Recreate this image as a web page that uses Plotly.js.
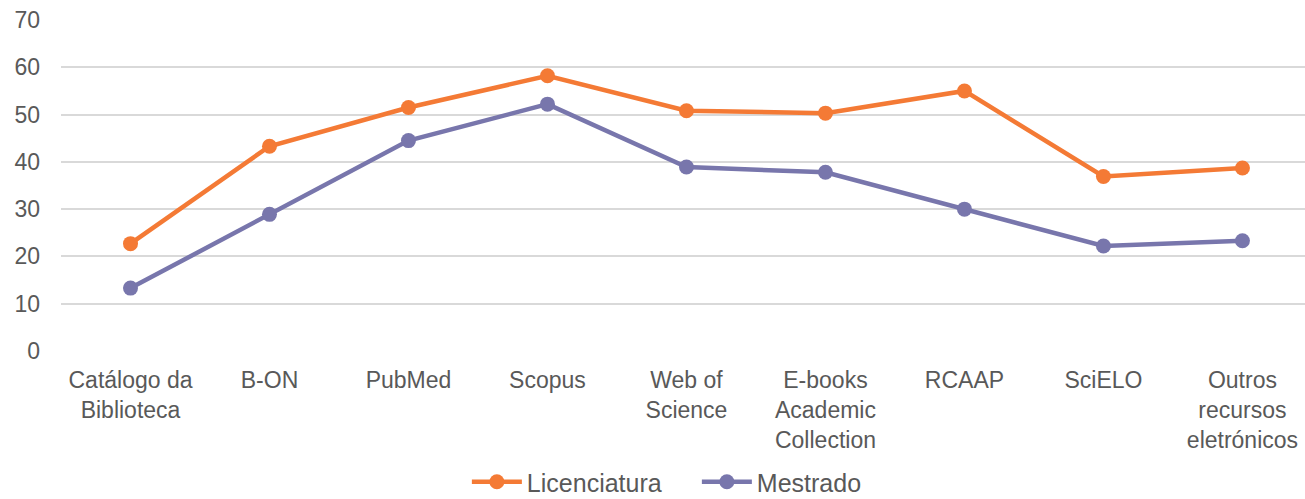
<!DOCTYPE html>
<html><head><meta charset="utf-8">
<script src="https://cdn.plot.ly/plotly-3.0.1.min.js"></script>
<style>html,body{margin:0;padding:0;background:#fff}#chart{width:1305px;height:499px}</style>
</head><body><div id="chart"></div>
<script>
const categories = ["Catálogo da<br>Biblioteca","B-ON","PubMed","Scopus","Web of<br>Science","E-books<br>Academic<br>Collection","RCAAP","SciELO","Outros<br>recursos<br>eletrónicos"];
const licenciatura = [22.7, 43.3, 51.5, 58.2, 50.8, 50.3, 55.0, 36.9, 38.7];
const mestrado = [13.3, 28.9, 44.5, 52.2, 38.9, 37.8, 30.0, 22.2, 23.3];
const yTicks = [0,10,20,30,40,50,60,70];

const font = {family: "Liberation Sans, Arial, sans-serif", size: 23, color: "#595959"};
const traces = [
  {x: categories, y: licenciatura, name: "Licenciatura", type: "scatter", mode: "lines+markers",
   line: {color: "#F47A35", width: 4.5}, marker: {color: "#F47A35", size: 15}},
  {x: categories, y: mestrado, name: "Mestrado", type: "scatter", mode: "lines+markers",
   line: {color: "#7876AC", width: 4.5}, marker: {color: "#7876AC", size: 15}}
];
const layout = {
  width: 1305, height: 499,
  margin: {l: 61, r: 0, t: 20, b: 148},
  paper_bgcolor: "#fff", plot_bgcolor: "#fff",
  font: font,
  showlegend: true,
  xaxis: {type: "category", range: [-0.5, 8.45], showgrid: false, zeroline: false, showline: false,
          ticks: "", tickfont: font, automargin: false, ticklabelstandoff: 13},
  yaxis: {range: [0, 70], tickvals: yTicks, showgrid: true, gridcolor: "#D9D9D9", gridwidth: 2,
          zeroline: false, showline: false, ticks: "", tickfont: font, ticklabelstandoff: 20, automargin: false},
  legend: {orientation: "h", x: 0.534, xanchor: "center", xref: "container", y: 0.034, yref: "container", yanchor: "middle",
           font: {family: font.family, size: 25, color: "#595959"}, itemwidth: 50, entrywidth: 165, entrywidthmode: "pixels"}
};
Plotly.newPlot("chart", traces, layout, {displayModeBar: false, staticPlot: true});
</script></body></html>
